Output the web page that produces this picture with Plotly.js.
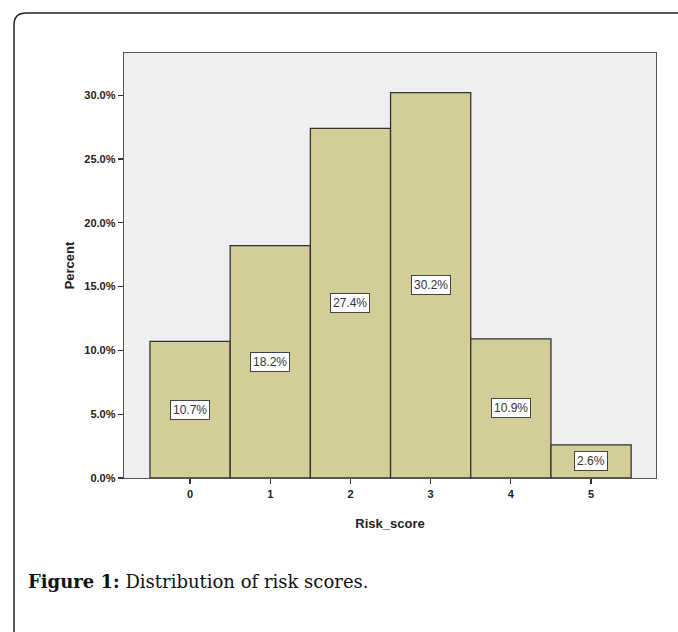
<!DOCTYPE html>
<html>
<head>
<meta charset="utf-8">
<script src="https://cdn.plot.ly/plotly-3.0.1.min.js"></script>
<style>
  html, body { margin: 0; padding: 0; background: #ffffff; }
  #chart { width: 678px; height: 632px; }
</style>
</head>
<body>
<div id="chart"></div>
<script>
// Data
const categories = ["0", "1", "2", "3", "4", "5"];
const percentValues = [10.7, 18.2, 27.4, 30.2, 10.9, 2.6];
const yTickValues = [0, 5, 10, 15, 20, 25, 30];
const xAxisTitle = "Risk_score";
const yAxisTitle = "Percent";
const captionBold = "Figure 1:";
const captionText = "Distribution of risk scores.";

const W = 678, H = 632;
const mL = 124, mR = 22, mT = 53, mB = 154;
const plotW = W - mL - mR, plotH = H - mT - mB;
// pixel -> paper helpers (for decoration only)
const px = v => (v - mL) / plotW;
const py = v => (H - mB - v) / plotH;

const xIdx = categories.map((c, i) => i);

const barTrace = {
  type: "bar",
  x: xIdx,
  y: percentValues,
  width: 1,
  marker: { color: "#D3CE97", line: { color: "#333333", width: 1.3 } },
  hoverinfo: "skip"
};

const labelAnnotations = percentValues.map((v, i) => ({
  x: i, y: v / 2, xref: "x", yref: "y",
  text: v.toFixed(1) + "%",
  showarrow: false,
  bgcolor: "#ffffff",
  bordercolor: "#444444",
  borderwidth: 1,
  borderpad: 2,
  font: { family: "Liberation Sans, Arial, sans-serif", size: 12, color: "#333333" }
}));

// frame: open on right/bottom, rounded top-left corner
const x0 = px(14), yTop = py(13), yBot = py(H + 5), xRight = px(W + 5);
const rX = 12 / plotW, rY = 12 / plotH;
const framePath = `M ${x0},${yBot} L ${x0},${yTop - rY} Q ${x0},${yTop} ${x0 + rX},${yTop} L ${xRight},${yTop}`;

const layout = {
  width: W, height: H,
  margin: { l: mL, r: mR, t: mT, b: mB, pad: 0 },
  paper_bgcolor: "#ffffff",
  plot_bgcolor: "#EFEFEF",
  showlegend: false,
  bargap: 0,
  xaxis: {
    range: [-0.824, 5.81],
    tickmode: "array",
    tickvals: xIdx,
    ticktext: categories,
    ticks: "outside", ticklen: 5, tickwidth: 1.2, tickcolor: "#333333",
    showline: true, linecolor: "#555555", linewidth: 1.3, mirror: true,
    showgrid: false, zeroline: false,
    tickfont: { family: "Liberation Sans, Arial, sans-serif", size: 11, color: "#222222", weight: "bold" },
    title: { text: xAxisTitle, standoff: 20,
      font: { family: "Liberation Sans, Arial, sans-serif", size: 13, color: "#222222", weight: "bold" } }
  },
  yaxis: {
    range: [0, 33.3],
    tickmode: "array",
    tickvals: yTickValues,
    ticktext: yTickValues.map(v => v.toFixed(1) + "%"),
    ticks: "outside", ticklen: 5, tickwidth: 1.2, tickcolor: "#333333",
    showline: true, linecolor: "#555555", linewidth: 1.3, mirror: true,
    showgrid: false, zeroline: false,
    tickfont: { family: "Liberation Sans, Arial, sans-serif", size: 11, color: "#222222", weight: "bold" },
    title: { text: yAxisTitle, standoff: 6,
      font: { family: "Liberation Sans, Arial, sans-serif", size: 13, color: "#222222", weight: "bold" } }
  },
  shapes: [{
    type: "path", xref: "paper", yref: "paper",
    path: framePath,
    line: { color: "#222222", width: 1.5 }
  }],
  annotations: labelAnnotations.concat([{
    xref: "paper", yref: "paper",
    x: px(26), y: py(594), xanchor: "left", yanchor: "bottom",
    showarrow: false,
    text: "<b>" + captionBold + "</b> " + captionText,
    font: { family: "DejaVu Serif, Liberation Serif, serif", size: 18, color: "#111111" }
  }])
};

Plotly.newPlot("chart", [barTrace], layout, { displayModeBar: false, staticPlot: true });
</script>
</body>
</html>
